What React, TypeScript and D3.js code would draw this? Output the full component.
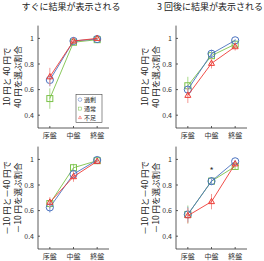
import * as d3 from 'd3';

const stages = ['序盤', '中盤', '終盤'];
const yTicks = [0.4, 0.6, 0.8, 1];
const seriesNames = ['過剰', '通常', '不足'];
const seriesColors = ['#4a72c0', '#7cc24a', '#ee3b35'];
const errColors = ['#8fa6d8', '#a9d98a', '#f39a95'];
const drawOrder = [1, 0, 2];

// panel data: [series][stage]
const topLeftVals = [[0.675, 0.98, 0.995], [0.53, 0.97, 0.99], [0.70, 0.98, 1.0]];
const topLeftErr = [[0.05, 0.01, 0.01], [0.08, 0.01, 0.01], [0.07, 0.01, 0.01]];
const topRightVals = [[0.60, 0.88, 0.985], [0.63, 0.865, 0.955], [0.555, 0.805, 0.935]];
const topRightErr = [[0.03, 0.03, 0.01], [0.07, 0.03, 0.02], [0.06, 0.04, 0.03]];
const botLeftVals = [[0.625, 0.885, 0.995], [0.655, 0.935, 0.99], [0.665, 0.865, 0.985]];
const botLeftErr = [[0.04, 0.03, 0.01], [0.04, 0.03, 0.01], [0.04, 0.04, 0.01]];
const botRightVals = [[0.57, 0.83, 0.985], [0.57, 0.83, 0.945], [0.56, 0.67, 0.965]];
const botRightErr = [[0.06, 0.03, 0.01], [0.07, 0.03, 0.02], [0.06, 0.06, 0.02]];

const titles = ['すぐに結果が表示される', '3 回後に結果が表示される'];
const labelsTop = ['10 円と 40 円で', '40 円を選ぶ割合'];
const labelsBot = ['－10 円と－40 円で', '－10 円を選ぶ割合'];

const font = "'Noto Sans CJK JP', 'Noto Sans', sans-serif";

type PanelProps = {
  ax: number;
  top: number;
  vals: number[][];
  errs: number[][];
  label: string[];
  legend?: boolean;
  star?: number;
};

function Marker({ kind, x, y, color }: { kind: number; x: number; y: number; color: string }) {
  if (kind === 0) return <circle cx={x} cy={y} r={3.6} fill="none" stroke={color} strokeWidth={1} />;
  if (kind === 1) return <rect x={x - 3} y={y - 3} width={6} height={6} fill="none" stroke={color} strokeWidth={1} />;
  return <path d={`M${x},${y - 3.3}L${x + 3},${y + 2}L${x - 3},${y + 2}Z`} fill="none" stroke={color} strokeWidth={1} />;
}

function Panel({ ax, top, vals, errs, label, legend, star }: PanelProps) {
  const x = d3.scaleLinear().domain([0.5, 3.5]).range([ax, ax + 71]);
  const y = d3.scaleLinear().domain([0.3, 1.1]).range([top + 102.4, top]);
  const line = d3.line<number>().x((_, i) => x(i + 1)).y((d) => y(d));
  const bottom = y(0.3);
  return (
    <g fontFamily={font}>
      <line x1={ax} x2={ax} y1={top} y2={bottom} stroke="#333" strokeWidth={0.8} />
      <line x1={ax} x2={x(3.5)} y1={bottom} y2={bottom} stroke="#333" strokeWidth={0.8} />
      {yTicks.map((t) => (
        <g key={t}>
          <line x1={ax} x2={ax + 2} y1={y(t)} y2={y(t)} stroke="#333" strokeWidth={0.8} />
          <text x={ax - 4} y={y(t) + 2.5} fontSize={7} textAnchor="end" fill="#333">{t}</text>
        </g>
      ))}
      {stages.map((s, i) => (
        <g key={s}>
          <line x1={x(i + 1)} x2={x(i + 1)} y1={bottom} y2={bottom - 2} stroke="#333" strokeWidth={0.8} />
          <text x={x(i + 1)} y={bottom + 10} fontSize={7} textAnchor="middle" fill="#333">{s}</text>
        </g>
      ))}
      <text
        transform={`translate(${ax - 23},${(top + bottom) / 2}) rotate(-90)`}
        fontSize={8.5}
        textAnchor="middle"
        fill="#222"
      >
        <tspan x={0} y={-5.5}>{label[0]}</tspan>
        <tspan x={0} y={5.5}>{label[1]}</tspan>
      </text>
      {drawOrder.map((s) => {
        const v = vals[s];
        return (
          <g key={s}>
            {v.map((d, i) => (
              <line key={i} x1={x(i + 1)} x2={x(i + 1)} y1={y(d - errs[s][i])} y2={y(d + errs[s][i])} stroke={errColors[s]} strokeWidth={1} />
            ))}
            <path d={line(v) ?? ''} fill="none" stroke={seriesColors[s]} strokeWidth={0.9} />
            {v.map((d, i) => (
              <Marker key={i} kind={s} x={x(i + 1)} y={y(d)} color={seriesColors[s]} />
            ))}
          </g>
        );
      })}
      {star !== undefined && (
        <text x={x(2)} y={y(star) + 4} fontSize={9} textAnchor="middle" fill="#333">*</text>
      )}
      {legend && (
        <g>
          <rect x={ax + 38} y={top + 69} width={26} height={28} fill="#fff" stroke="#444" strokeWidth={0.6} />
          {seriesNames.map((n, s) => (
            <g key={n}>
              <g transform={`translate(${ax + 42},${top + 74 + s * 9}) scale(0.5) translate(${-(ax + 42)},${-(top + 74 + s * 9)})`}>
                <Marker kind={s} x={ax + 42} y={top + 74 + s * 9} color={seriesColors[s]} />
              </g>
              <text x={ax + 46} y={top + 76.5 + s * 9} fontSize={6} fill="#222">{n}</text>
            </g>
          ))}
        </g>
      )}
    </g>
  );
}

export default function App() {
  return (
    <svg width={264} height={261} style={{ position: 'absolute', left: 0, top: 0, background: '#fff' }}>
      <rect width={264} height={261} fill="#fff" />
      <text x={71} y={10} fontSize={9} textAnchor="middle" fontFamily={font} fill="#222">{titles[0]}</text>
      <text x={210} y={10} fontSize={9} textAnchor="middle" fontFamily={font} fill="#222">{titles[1]}</text>
      <Panel ax={38} top={25.6} vals={topLeftVals} errs={topLeftErr} label={labelsTop} legend />
      <Panel ax={176} top={25.6} vals={topRightVals} errs={topRightErr} label={labelsTop} />
      <Panel ax={38} top={146.6} vals={botLeftVals} errs={botLeftErr} label={labelsBot} />
      <Panel ax={176} top={146.6} vals={botRightVals} errs={botRightErr} label={labelsBot} star={0.92} />
    </svg>
  );
}
